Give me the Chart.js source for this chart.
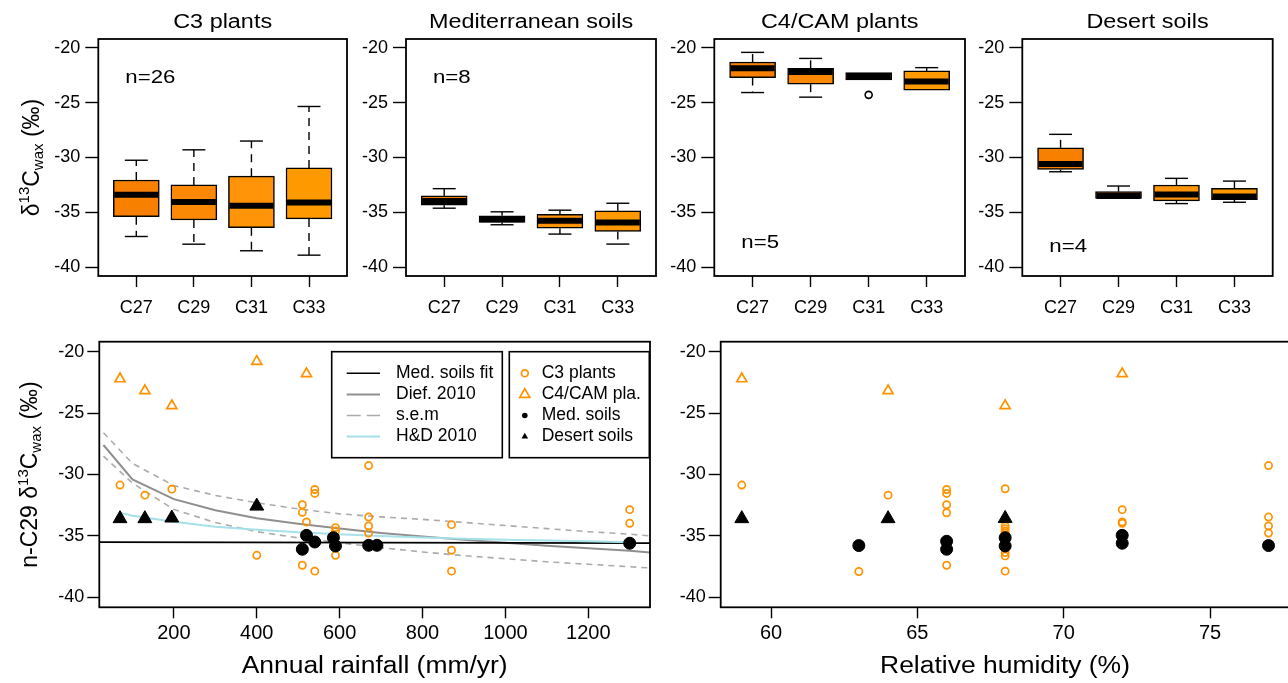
<!DOCTYPE html>
<html>
<head>
<meta charset="utf-8">
<script src="https://cdn.jsdelivr.net/npm/chart.js@4.4.0/dist/chart.umd.min.js"></script>
<style>
html,body{margin:0;padding:0;background:#fff;overflow:hidden;width:1288px;height:683px;}
canvas{position:absolute;left:0;top:0;}
</style>
</head>
<body>
<canvas id="p1" width="1288" height="683"></canvas>
<canvas id="p2" width="1288" height="683"></canvas>
<canvas id="p3" width="1288" height="683"></canvas>
<canvas id="p4" width="1288" height="683"></canvas>
<canvas id="b1" width="1288" height="683"></canvas>
<canvas id="b2" width="1310" height="683"></canvas>
<script>
// ---------------- DATA ----------------
const chainLabels = ['C27', 'C29', 'C31', 'C33'];
const chainPos = [1, 2, 3, 4];
const panelTitles = ['C3 plants', 'Mediterranean soils', 'C4/CAM plants', 'Desert soils'];
const panelN = ['n=26', 'n=8', 'n=5', 'n=4'];
const yTickValues = [-40, -35, -30, -25, -20];
const rainTickValues = [200, 400, 600, 800, 1000, 1200];
const rhTickValues = [60, 65, 70, 75];

// Box plots: lower whisker, Q1, median, Q3, upper whisker
const c3Low  = [-37.2, -37.9, -38.5, -38.9];
const c3Q1   = [-35.4, -35.7, -36.4, -35.6];
const c3Med  = [-33.4, -34.05, -34.4, -34.1];
const c3Q3   = [-32.05, -32.5, -31.7, -30.95];
const c3High = [-30.25, -29.3, -28.5, -25.35];

const medLow  = [-34.62, -36.13, -36.98, -37.89];
const medQ1   = [-34.35, -35.92, -36.44, -36.74];
const medMed  = [-33.96, -35.62, -35.77, -35.92];
const medQ3   = [-33.5, -35.32, -35.17, -34.86];
const medHigh = [-32.84, -34.95, -34.8, -34.17];

const c4Low  = [-24.08, -24.5, -22.93, -23.93];
const c4Q1   = [-22.72, -23.32, -22.93, -23.87];
const c4Med  = [-21.87, -22.2, -22.57, -23.08];
const c4Q3   = [-21.3, -21.87, -22.27, -22.11];
const c4High = [-20.42, -20.97, -22.27, -21.81];
const c4OutPos = [3];
const c4OutVal = [-24.29];

const desLow  = [-31.3, -33.81, -34.2, -34.08];
const desQ1   = [-31.09, -33.72, -33.96, -33.84];
const desMed  = [-30.6, -33.5, -33.38, -33.56];
const desQ3   = [-29.12, -33.11, -32.51, -32.81];
const desHigh = [-27.89, -32.6, -31.9, -32.15];

// Annual rainfall panel
const c3Rain = [70, 130, 195, 400, 510, 510, 510, 520, 540, 540, 540, 590, 590, 590, 670, 670, 670, 670, 870, 870, 870, 1300, 1300];
const c3RainD = [-30.86, -31.68, -31.19, -36.57, -32.46, -33.08, -37.38, -33.86, -31.22, -31.54, -37.86, -34.32, -34.6, -36.57, -29.27, -33.46, -34.19, -34.76, -34.08, -36.16, -37.86, -32.86, -33.97];
const c4Rain = [70, 130, 195, 400, 520];
const c4RainD = [-22.22, -23.19, -24.41, -20.81, -21.81];
const medRain = [510, 520, 540, 585, 590, 670, 690, 1300];
const medRainD = [-36.08, -34.95, -35.49, -35.14, -35.81, -35.76, -35.76, -35.59];
const desRain = [70, 130, 195, 400];
const desRainD = [-33.59, -33.59, -33.54, -32.57];

const medFitX = [20, 1349];
const medFitY = [-35.5, -35.58];
const diefX = [30, 100, 200, 300, 400, 500, 600, 700, 800, 900, 1000, 1100, 1200, 1300, 1349];
const diefY = [-27.6, -30.4, -32.0, -32.9, -33.55, -34.0, -34.4, -34.75, -35.05, -35.3, -35.55, -35.8, -36.0, -36.2, -36.35];
const semUpY = [-26.6, -29.1, -30.9, -31.7, -32.3, -32.8, -33.2, -33.45, -33.65, -33.9, -34.15, -34.4, -34.65, -34.85, -35.0];
const semLoY = [-28.5, -30.7, -32.85, -33.9, -34.65, -35.15, -35.55, -35.95, -36.3, -36.6, -36.85, -37.1, -37.3, -37.5, -37.6];
const hdX = [70, 100, 200, 300, 400, 500, 600, 700, 800, 900, 1000, 1100, 1200, 1300];
const hdY = [-33.1, -33.35, -33.85, -34.25, -34.5, -34.7, -34.85, -35.0, -35.12, -35.22, -35.3, -35.37, -35.43, -35.5];

// Relative humidity panel
const c3RH = [59, 63, 64, 66, 66, 66, 66, 66, 68, 68, 68, 68, 68, 68, 68, 68, 72, 72, 72, 77, 77, 77, 77];
const c3RHD = [-30.86, -37.89, -31.68, -31.22, -31.54, -32.46, -33.11, -37.38, -31.16, -34.19, -34.4, -34.6, -34.76, -36.35, -36.62, -37.86, -32.86, -33.86, -33.97, -29.27, -33.46, -34.19, -34.76];
const c4RH = [59, 64, 68, 72];
const c4RHD = [-22.22, -23.19, -24.41, -21.81];
const medRH = [63, 66, 66, 68, 68, 72, 72, 77];
const medRHD = [-35.78, -35.43, -36.08, -35.14, -35.81, -34.95, -35.59, -35.78];
const desRH = [59, 64, 68];
const desRHD = [-33.59, -33.59, -33.57];

const lineLegendLabels = ['Med. soils fit', 'Dief. 2010', 's.e.m', 'H&D 2010'];
const pointLegendLabels = ['C3 plants', 'C4/CAM pla.', 'Med. soils', 'Desert soils'];
const xTitleRain = 'Annual rainfall (mm/yr)';
const xTitleRH = 'Relative humidity (%)';
const yTitleTop = [['δ', 0], ['13', 1], ['C', 0], ['wax', -1], [' (‰)', 0]];
const yTitleBottom = [['n-C29 δ', 0], ['13', 1], ['C', 0], ['wax', -1], [' (‰)', 0]];

// ---------------- STYLE / LAYOUT ----------------
const FONT = '"Liberation Sans", Arial, Helvetica, sans-serif';
const H = 683;
const YW = 50, XH = 40;
const ORANGE = '#FF9200';
const boxColors = ['#F88000', '#FB8905', '#FF9408', '#FF9900'];

function xy(xs, ys) { return xs.map((x, i) => ({x: x, y: ys[i]})); }

function stretchText(ctx, str, x, y, size, sx, align, baseline) {
  ctx.save();
  ctx.translate(x, y);
  ctx.scale(sx, 1);
  ctx.font = size + 'px ' + FONT;
  ctx.fillStyle = '#000';
  ctx.textAlign = align;
  ctx.textBaseline = baseline;
  ctx.fillText(str, 0, 0);
  ctx.restore();
}
function richVertical(ctx, parts, x, cy, size, small) {
  ctx.save();
  ctx.translate(x, cy);
  ctx.rotate(-Math.PI / 2);
  ctx.fillStyle = '#000';
  ctx.textBaseline = 'alphabetic';
  ctx.textAlign = 'left';
  const fonts = parts.map(p => (p[1] === 0 ? size : small) + 'px ' + FONT);
  let total = 0;
  parts.forEach((p, i) => { ctx.font = fonts[i]; total += ctx.measureText(p[0]).width; });
  let cx = -total / 2;
  parts.forEach((p, i) => {
    ctx.font = fonts[i];
    const dy = p[1] === 1 ? -size * 0.4 : (p[1] === -1 ? size * 0.2 : 0);
    ctx.fillText(p[0], cx, dy);
    cx += ctx.measureText(p[0]).width;
  });
  ctx.restore();
}

function axis(tl, pad, size, extra) {
  return Object.assign({
    grid: {display: true, drawOnChartArea: false, drawTicks: true, offset: false, tickLength: tl, tickColor: '#000', tickWidth: 1.4},
    border: {display: false},
    offset: false,
    ticks: {color: '#000', padding: pad, font: {family: FONT, size: size}, maxRotation: 0, autoSkip: false, callback: v => String(v)}
  }, extra);
}

const framePlugin = {
  id: 'frame',
  afterDraw(chart) {
    const a = chart.chartArea, ctx = chart.ctx;
    ctx.save();
    ctx.strokeStyle = '#000';
    ctx.lineWidth = 1.8;
    ctx.strokeRect(a.left, a.top, a.right - a.left, a.bottom - a.top);
    ctx.restore();
  }
};

function boxPlugin(stats) {
  return {
    id: 'boxExtras',
    afterDatasetsDraw(chart) {
      const xs = chart.scales.x, ys = chart.scales.y, ctx = chart.ctx;
      const bw = 46, half = bw / 2, cap = bw / 4;
      ctx.save();
      ctx.strokeStyle = '#000';
      function seg(x1, y1, x2, y2) { ctx.beginPath(); ctx.moveTo(x1, y1); ctx.lineTo(x2, y2); ctx.stroke(); }
      chainPos.forEach((p, i) => {
        const x = xs.getPixelForValue(p);
        const yLo = ys.getPixelForValue(stats.low[i]);
        const yQ1 = ys.getPixelForValue(stats.q1[i]);
        const yMd = ys.getPixelForValue(stats.med[i]);
        const yQ3 = ys.getPixelForValue(stats.q3[i]);
        const yHi = ys.getPixelForValue(stats.high[i]);
        ctx.lineWidth = 1.4;
        ctx.setLineDash([8, 6]);
        if (yQ3 - yHi > 1) seg(x, yQ3, x, yHi);
        if (yLo - yQ1 > 1) seg(x, yQ1, x, yLo);
        ctx.setLineDash([]);
        if (yQ3 - yHi > 1) seg(x - cap, yHi, x + cap, yHi);
        if (yLo - yQ1 > 1) seg(x - cap, yLo, x + cap, yLo);
        ctx.lineWidth = 6;
        ctx.lineCap = 'butt';
        seg(x - half + 1, yMd, x + half - 1, yMd);
      });
      if (stats.outPos) {
        ctx.lineWidth = 1.6;
        stats.outPos.forEach((p, i) => {
          ctx.beginPath();
          ctx.arc(xs.getPixelForValue(p), ys.getPixelForValue(stats.outVal[i]), 3.5, 0, Math.PI * 2);
          ctx.stroke();
        });
      }
      ctx.restore();
    }
  };
}

function textPlugin(fn) { return {id: 'texts', afterDraw(chart) { fn(chart.ctx, chart.chartArea); }}; }

function makePadding(area, cw) {
  return {left: area.left - YW, top: area.top, right: cw - area.right, bottom: H - area.bottom - XH};
}

// ---------------- TOP BOX PANELS ----------------
const topAreas = [
  {left: 98.3, right: 347, top: 39, bottom: 276},
  {left: 406, right: 656, top: 39, bottom: 276},
  {left: 714.3, right: 965, top: 39, bottom: 276},
  {left: 1022.3, right: 1272.7, top: 39, bottom: 276}
];
const topStats = [
  {low: c3Low, q1: c3Q1, med: c3Med, q3: c3Q3, high: c3High},
  {low: medLow, q1: medQ1, med: medMed, q3: medQ3, high: medHigh},
  {low: c4Low, q1: c4Q1, med: c4Med, q3: c4Q3, high: c4High, outPos: c4OutPos, outVal: c4OutVal},
  {low: desLow, q1: desQ1, med: desMed, q3: desQ3, high: desHigh}
];
const nOffsetY = [44.3, 44.3, 209.3, 212.7];

['p1', 'p2', 'p3', 'p4'].forEach((id, k) => {
  const st = topStats[k];
  const xAxis = axis(11, 10, 18, {
    type: 'linear', min: 0.34, max: 4.66,
    afterBuildTicks: s => { s.ticks = chainPos.map(v => ({value: v})); },
    afterFit: s => { s.height = XH; }
  });
  xAxis.ticks.callback = v => chainLabels[chainPos.indexOf(v)];
  new Chart(document.getElementById(id), {
    type: 'bar',
    data: {
      datasets: [{
        data: chainPos.map((p, i) => ({x: p, y: [st.q1[i], st.q3[i]]})),
        backgroundColor: boxColors,
        borderColor: '#000',
        borderWidth: 1.5,
        borderSkipped: false,
        barThickness: 46
      }]
    },
    options: {
      responsive: false, animation: false, devicePixelRatio: 1,
      layout: {padding: makePadding(topAreas[k], 1288)},
      plugins: {legend: {display: false}, tooltip: {enabled: false}},
      scales: {
        x: xAxis,
        y: axis(13, 5, 18, {
          type: 'linear', min: -40.8, max: -19.2, beginAtZero: false,
          afterBuildTicks: s => { s.ticks = yTickValues.map(v => ({value: v})); },
          afterFit: s => { s.width = YW; }
        })
      }
    },
    plugins: [boxPlugin(st), framePlugin, textPlugin((ctx, a) => {
      stretchText(ctx, panelTitles[k], (a.left + a.right) / 2, 27.5, 20, 1.17, 'center', 'alphabetic');
      stretchText(ctx, panelN[k], a.left + 27, a.top + nOffsetY[k], 19, 1.17, 'left', 'alphabetic');
      if (k === 0) richVertical(ctx, yTitleTop, 38.5, (a.top + a.bottom) / 2, 23, 15);
    })]
  });
});

// ---------------- BOTTOM SCATTER PANELS ----------------
function pointSets(c3x, c3y, c4x, c4y, mx, my, dx, dy) {
  return [
    {data: xy(dx, dy), pointStyle: 'triangle', pointRadius: 8, backgroundColor: '#000', borderColor: '#000', borderWidth: 1, order: 1},
    {data: xy(mx, my), pointStyle: 'circle', pointRadius: 6, backgroundColor: '#000', borderColor: '#000', borderWidth: 1, order: 2},
    {data: xy(c4x, c4y), pointStyle: 'triangle', pointRadius: 5.8, backgroundColor: 'rgba(0,0,0,0)', borderColor: ORANGE, borderWidth: 1.7, order: 3},
    {data: xy(c3x, c3y), pointStyle: 'circle', pointRadius: 3.6, backgroundColor: 'rgba(0,0,0,0)', borderColor: ORANGE, borderWidth: 1.7, order: 4}
  ];
}
function lineSet(xs, ys, color, width, dash, order) {
  return {data: xy(xs, ys), showLine: true, pointRadius: 0, borderColor: color, borderWidth: width, borderDash: dash, fill: false, tension: 0, order: order};
}

const b1Area = {left: 99.3, right: 650, top: 341.7, bottom: 607.3};
const b2Area = {left: 720.7, right: 1289.6, top: 341.7, bottom: 607.3};

const legendPlugin = {
  id: 'legendBoxes',
  afterDraw(chart) {
    const ctx = chart.ctx, a = chart.chartArea;
    const L1 = {x: a.left + 232.4, y: a.top + 10, w: 170.6, h: 106};
    const L2 = {x: a.left + 410, y: a.top + 10, w: 140, h: 106};
    const rows = [31.6, 52.7, 73.8, 94.9];
    const LF = 17.5;
    ctx.save();
    [L1, L2].forEach(L => {
      ctx.fillStyle = '#fff';
      ctx.fillRect(L.x, L.y, L.w, L.h);
      ctx.strokeStyle = '#000';
      ctx.lineWidth = 1.6;
      ctx.strokeRect(L.x, L.y, L.w, L.h);
    });
    const lineStyles = [['#000', 1.6, []], ['#8F8F8F', 2, []], ['#ABABAB', 1.6, [14, 6]], ['#A6E1EA', 2, []]];
    lineStyles.forEach((s, i) => {
      const y = L1.y + rows[i] - 10;
      ctx.strokeStyle = s[0]; ctx.lineWidth = s[1]; ctx.setLineDash(s[2]);
      ctx.beginPath(); ctx.moveTo(L1.x + 15, y); ctx.lineTo(L1.x + 48.3, y); ctx.stroke();
      ctx.setLineDash([]);
      stretchText(ctx, lineLegendLabels[i], L1.x + 64.3, y, LF, 1.0, 'left', 'middle');
    });
    const sx = L2.x + 15.5;
    let y = L2.y + rows[0] - 10;
    ctx.strokeStyle = ORANGE; ctx.lineWidth = 1.7;
    ctx.beginPath(); ctx.arc(sx, y, 3.4, 0, Math.PI * 2); ctx.stroke();
    stretchText(ctx, pointLegendLabels[0], L2.x + 32.4, y, LF, 1.0, 'left', 'middle');
    y = L2.y + rows[1] - 10;
    const r = 5.8;
    ctx.beginPath();
    ctx.moveTo(sx, y - r); ctx.lineTo(sx + r * 0.866, y + r / 2); ctx.lineTo(sx - r * 0.866, y + r / 2); ctx.closePath(); ctx.stroke();
    stretchText(ctx, pointLegendLabels[1], L2.x + 32.4, y, LF, 1.0, 'left', 'middle');
    y = L2.y + rows[2] - 10;
    ctx.fillStyle = '#000';
    ctx.beginPath(); ctx.arc(sx, y, 2.8, 0, Math.PI * 2); ctx.fill();
    stretchText(ctx, pointLegendLabels[2], L2.x + 32.4, y, LF, 1.0, 'left', 'middle');
    y = L2.y + rows[3] - 10;
    const r2 = 3.8;
    ctx.fillStyle = '#000';
    ctx.beginPath();
    ctx.moveTo(sx, y - r2); ctx.lineTo(sx + r2 * 0.866, y + r2 / 2); ctx.lineTo(sx - r2 * 0.866, y + r2 / 2); ctx.closePath(); ctx.fill();
    stretchText(ctx, pointLegendLabels[3], L2.x + 32.4, y, LF, 1.0, 'left', 'middle');
    ctx.restore();
  }
};

function scatterOptions(area, cw, xmin, xmax, xticks) {
  return {
    responsive: false, animation: false, devicePixelRatio: 1,
    layout: {padding: makePadding(area, cw)},
    plugins: {legend: {display: false}, tooltip: {enabled: false}},
    scales: {
      x: axis(11, 3, 20, {
        type: 'linear', min: xmin, max: xmax,
        afterBuildTicks: s => { s.ticks = xticks.map(v => ({value: v})); },
        afterFit: s => { s.height = XH; }
      }),
      y: axis(12, 3, 18, {
        type: 'linear', min: -40.8, max: -19.2,
        afterBuildTicks: s => { s.ticks = yTickValues.map(v => ({value: v})); },
        afterFit: s => { s.width = YW; }
      })
    }
  };
}

new Chart(document.getElementById('b1'), {
  type: 'scatter',
  data: {
    datasets: pointSets(c3Rain, c3RainD, c4Rain, c4RainD, medRain, medRainD, desRain, desRainD).concat([
      lineSet(medFitX, medFitY, '#000', 1.6, [], 10),
      lineSet(diefX, diefY, '#8F8F8F', 2, [], 11),
      lineSet(diefX, semUpY, '#ABABAB', 1.6, [6, 5], 12),
      lineSet(diefX, semLoY, '#ABABAB', 1.6, [6, 5], 13),
      lineSet(hdX, hdY, '#A6E1EA', 2, [], 9)
    ])
  },
  options: scatterOptions(b1Area, 1288, 20, 1349, rainTickValues),
  plugins: [framePlugin, legendPlugin, textPlugin((ctx, a) => {
    stretchText(ctx, xTitleRain, (a.left + a.right) / 2, 673, 23, 1.15, 'center', 'alphabetic');
    richVertical(ctx, yTitleBottom, 36.8, (a.top + a.bottom) / 2, 23, 15);
  })]
});

new Chart(document.getElementById('b2'), {
  type: 'scatter',
  data: {datasets: pointSets(c3RH, c3RHD, c4RH, c4RHD, medRH, medRHD, desRH, desRHD)},
  options: scatterOptions(b2Area, 1310, 58.28, 77.72, rhTickValues),
  plugins: [framePlugin, textPlugin((ctx, a) => {
    stretchText(ctx, xTitleRH, 1005, 673, 23, 1.15, 'center', 'alphabetic');
  })]
});
</script>
</body>
</html>
